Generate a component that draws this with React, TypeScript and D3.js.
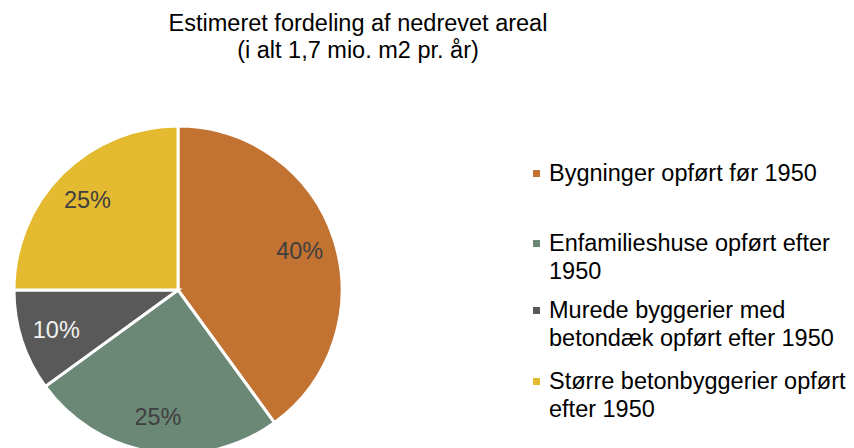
import React from 'react';
import * as d3 from 'd3';

const categories = [
  ['Bygninger opført før 1950'],
  ['Enfamilieshuse opført efter', '1950'],
  ['Murede byggerier med', 'betondæk opført efter 1950'],
  ['Større betonbyggerier opført', 'efter 1950'],
];
const values = [40, 25, 10, 25];
const colors = ['#C27231', '#6B8877', '#595959', '#E3BA30'];
const labelColors = ['#404040', '#404040', '#F2F2F2', '#404040'];
const titleLines = ['Estimeret fordeling af nedrevet areal', '(i alt 1,7 mio. m2 pr. år)'];

export default function App() {
  const width = 854;
  const height = 448;
  const cx = 178;
  const cy = 290;
  const radius = 164;
  const font = '"Liberation Sans", Arial, sans-serif';
  const fs = 23.5;

  const pie = d3.pie<number>().sort(null).value((d) => d);
  const arcs = pie(values);
  const arc = d3.arc<d3.PieArcDatum<number>>().innerRadius(0).outerRadius(radius);
  const labelArc = d3.arc<d3.PieArcDatum<number>>().innerRadius(128).outerRadius(128);

  // legend rows: baseline of first line of each entry
  const legendY = [181, 251, 318, 389];
  const lineH = 28;

  return (
    <svg width={width} height={height} style={{ position: 'absolute', left: 0, top: 0 }} fontFamily={font}>
      <rect width={width} height={height} fill="#fff" />
      {titleLines.map((t, i) => (
        <text key={i} x={358} y={31 + i * 27} textAnchor="middle" fontSize={fs} fill="#000">
          {t}
        </text>
      ))}
      <g transform={`translate(${cx},${cy})`}>
        {arcs.map((a, i) => (
          <path key={i} d={arc(a) || ''} fill={colors[i]} stroke="#fff" strokeWidth={3} />
        ))}
        {arcs.map((a, i) => {
          const [x, y] = labelArc.centroid(a);
          return (
            <text key={i} x={x} y={y} dy="0.35em" textAnchor="middle" fontSize={fs} fill={labelColors[i]}>
              {values[i]}%
            </text>
          );
        })}
      </g>
      <g>
        {categories.map((lines, i) => (
          <g key={i}>
            <rect x={533} y={legendY[i] - 11} width={7} height={7} fill={colors[i]} />
            {lines.map((l, j) => (
              <text key={j} x={549} y={legendY[i] + j * lineH} fontSize={fs} fill="#000">
                {l}
              </text>
            ))}
          </g>
        ))}
      </g>
    </svg>
  );
}
